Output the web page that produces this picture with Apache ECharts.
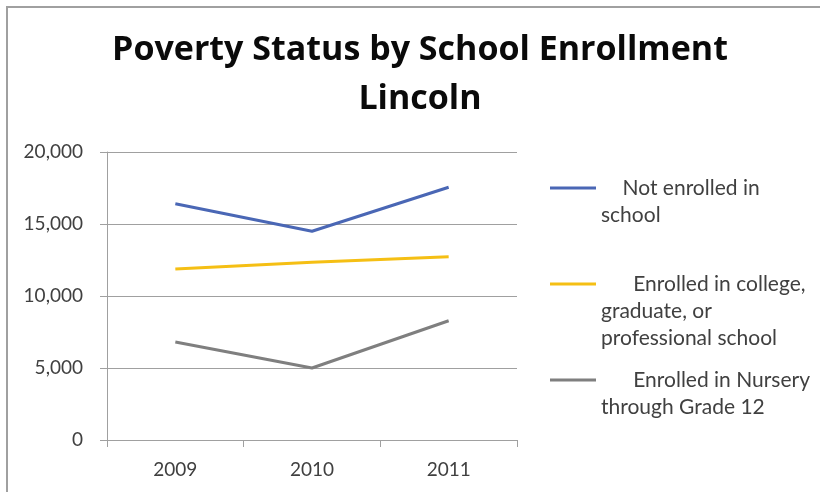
<!DOCTYPE html>
<html>
<head>
<meta charset="utf-8">
<script src="https://cdn.jsdelivr.net/npm/echarts@6/dist/echarts.min.js"></script>
<style>
html,body{margin:0;padding:0;background:#fff;}
#frame{position:absolute;left:6px;top:6px;width:814px;height:486px;border-left:2px solid #a0a0a0;border-top:2px solid #a0a0a0;box-sizing:border-box;}
#chart{position:absolute;left:0;top:0;width:820px;height:492px;}
</style>
</head>
<body>
<div id="frame"></div>
<div id="chart"></div>
<script>
const categories = ['2009', '2010', '2011'];
const seriesNames = ['Not enrolled in school', 'Enrolled in college, graduate, or professional school', 'Enrolled in Nursery through Grade 12'];
const notEnrolled = [16400, 14500, 17550];
const collegeEnrolled = [11880, 12350, 12720];
const nurseryEnrolled = [6800, 5000, 8280];
const yTicks = [0, 5000, 10000, 15000, 20000];
const legendLabels = ['\n    Not enrolled in\nschool', '\n\n      Enrolled in college,\ngraduate, or\nprofessional school', '\n      Enrolled in Nursery\nthrough Grade 12'];
const colors = ['#4A67B5', '#F5BF14', '#7F7F7F'];

const FONT = 'Lato';
const chart = echarts.init(document.getElementById('chart'), null, {renderer: 'canvas'});
const values = [notEnrolled, collegeEnrolled, nurseryEnrolled];
const legendIconY = [188, 284, 380];
const legendLines = [3, 5, 3];
const LH = 27;

const option = {
  backgroundColor: 'transparent',
  animation: false,
  title: {
    text: 'Poverty Status by School Enrollment\nLincoln',
    left: 420,
    top: 26,
    textAlign: 'center',
    padding: 0,
    textStyle: {fontFamily: 'Open Sans', fontWeight: 'bold', fontSize: 34, lineHeight: 49, color: '#0a0a0a'}
  },
  legend: seriesNames.map((n, i) => ({
    data: [n],
    left: 550,
    top: legendIconY[i] - legendLines[i] * LH / 2,
    padding: 0,
    icon: 'rect',
    itemWidth: 46,
    itemHeight: 3,
    selectedMode: false,
    formatter: () => legendLabels[i],
    textStyle: {fontFamily: FONT, fontSize: 21, lineHeight: LH, color: '#404040'}
  })),
  grid: {left: 107, right: 303, top: 152, bottom: 52, containLabel: false},
  xAxis: {
    type: 'category',
    data: categories,
    boundaryGap: true,
    axisLine: {lineStyle: {color: '#A0A0A0', width: 1}},
    axisTick: {show: true, length: 7, alignWithLabel: false, lineStyle: {color: '#A0A0A0'}},
    axisLabel: {fontFamily: FONT, fontSize: 19, color: '#404040', margin: 20}
  },
  yAxis: {
    type: 'value',
    min: yTicks[0],
    max: yTicks[yTicks.length - 1],
    interval: yTicks[1] - yTicks[0],
    axisLine: {show: true, lineStyle: {color: '#A0A0A0', width: 1}},
    axisTick: {show: true, length: 7, lineStyle: {color: '#A0A0A0'}},
    splitLine: {lineStyle: {color: '#A0A0A0', width: 1}},
    axisLabel: {fontFamily: FONT, fontSize: 19, color: '#404040', margin: 24,
      formatter: v => v.toLocaleString('en-US')}
  },
  series: seriesNames.map((n, i) => ({
    name: n,
    type: 'line',
    data: values[i],
    symbol: 'none',
    lineStyle: {width: 3, color: colors[i]},
    itemStyle: {color: colors[i]}
  }))
};
chart.setOption(option);
</script>
</body>
</html>
